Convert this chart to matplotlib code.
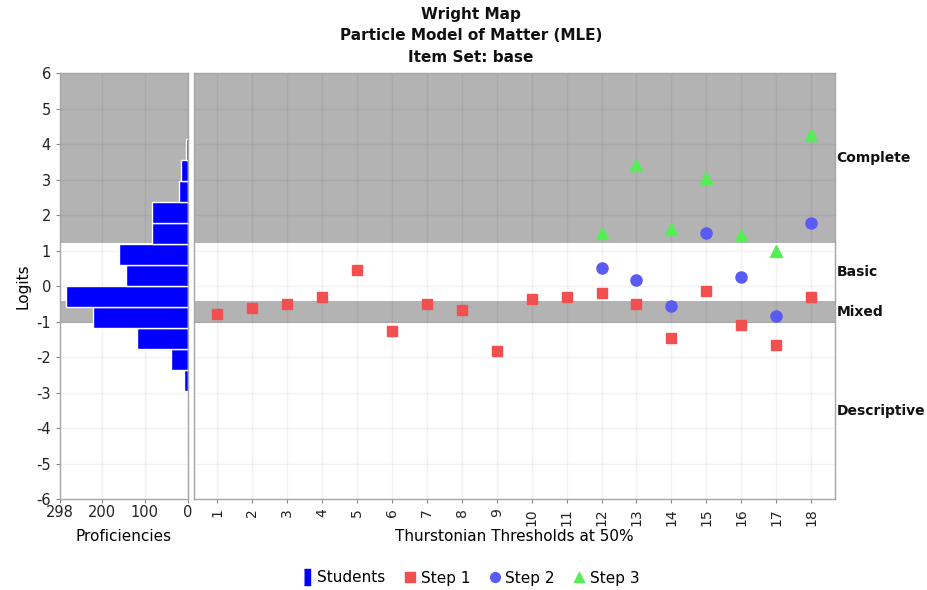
import numpy as np
import matplotlib
matplotlib.use("Agg")
import matplotlib.pyplot as plt
from matplotlib.lines import Line2D
from matplotlib.transforms import blended_transform_factory

plt.rcParams['font.family'] = ['DejaVu Sans']

# ---------------- data ----------------
items = list(range(1, 19))
step1 = [-0.79, -0.63, -0.51, -0.31, 0.45, -1.26, -0.51, -0.67, -1.82,
         -0.35, -0.31, -0.18, -0.51, -1.46, -0.15, -1.10, -1.66, -0.31]
step2_items = [12, 13, 14, 15, 16, 17, 18]
step2 = [0.50, 0.18, -0.57, 1.49, 0.25, -0.85, 1.77]
step3_items = [12, 13, 14, 15, 16, 17, 18]
step3 = [1.49, 3.41, 1.61, 3.05, 1.45, 0.99, 4.25]

# student proficiency histogram (logit bin centres, counts)
bin_centers = [-3.264, -2.672, -2.080, -1.488, -0.896, -0.304, 0.288,
               0.880, 1.472, 2.064, 2.656, 3.248, 3.840]
bin_width = 0.592
counts = [2, 9, 39, 118, 221, 284, 143, 160, 83, 83, 21, 15, 5]

# performance level bands
band_names = ['Descriptive', 'Mixed', 'Basic', 'Complete']
band_lower = [-6.0, -1.04, -0.41, 1.22]
band_upper = [-1.04, -0.41, 1.22, 6.0]
band_shaded = [False, True, False, True]

y_ticks = list(range(-6, 7))
hist_ticks = [298, 200, 100, 0]

# ---------------- styling ----------------
W, H = 928, 590
fig = plt.figure(figsize=(W / 100, H / 100), dpi=100)

def rect(x0, y0, x1, y1):
    return [x0 / W, 1 - y1 / H, (x1 - x0) / W, (y1 - y0) / H]

axL = fig.add_axes(rect(60, 73.3, 187.7, 499))
axR = fig.add_axes(rect(194, 73.3, 835, 499), sharey=axL)

band_color = '#b3b3b3'
spine_color = '#a6a6a6'
red = '#f25050'
blue = '#5a5af5'
green = '#55ee55'

for ax in (axL, axR):
    ax.set_axisbelow(True)
    for lo, hi, sh in zip(band_lower, band_upper, band_shaded):
        if sh:
            ax.axhspan(lo, hi, color=band_color, lw=0, zorder=0.2)
    ax.grid(True, color='black', alpha=0.05, lw=1)
    for s in ax.spines.values():
        s.set_color(spine_color)
        s.set_linewidth(1)
    ax.tick_params(colors='#888888', labelcolor='#222222', length=3, width=0.8)

# histogram
axL.barh(bin_centers, counts, height=bin_width, color='#0000ff',
         edgecolor='white', linewidth=1.0, zorder=2)
axL.set_xlim(298, 0)
axL.set_xticks(hist_ticks)
axL.set_xticklabels([str(t) for t in hist_ticks], fontsize=10.5)
axL.set_ylim(-6, 6)
axL.set_yticks(y_ticks)
axL.set_yticklabels([str(t) for t in y_ticks], fontsize=10.5)
axL.set_ylabel('Logits', fontsize=11, labelpad=4)
axL.set_xlabel('Proficiencies', fontsize=11, labelpad=7)
axL.tick_params(axis='x', pad=1)

# thresholds
axR.plot(items, step1, linestyle='none', marker='s', ms=7.5, color=red,
         mec=red, zorder=3)
axR.plot(step2_items, step2, linestyle='none', marker='o', ms=8, color=blue,
         mec=blue, zorder=3)
axR.plot(step3_items, step3, linestyle='none', marker='^', ms=8, color=green,
         mec=green, zorder=3)
axR.set_xlim(0.34, 18.68)
axR.set_xticks(items)
axR.set_xticklabels([str(i) for i in items], rotation=90, fontsize=10)
axR.tick_params(axis='y', left=False, labelleft=False)
axR.set_xlabel('Thurstonian Thresholds at 50%', fontsize=11, labelpad=2)

tr = blended_transform_factory(axR.transAxes, axR.transData)
for name, lo, hi in zip(band_names, band_lower, band_upper):
    axR.text(1.002, (lo + hi) / 2, name, transform=tr, ha='left',
             va='center', fontsize=10, fontweight='bold', color='#111111')

# title
title_lines = ['Wright Map', 'Particle Model of Matter (MLE)', 'Item Set: base']
for line, yy in zip(title_lines, [14, 36, 58]):
    fig.text(471 / W, 1 - yy / H, line, ha='center', va='center',
             fontsize=11, fontweight='bold', color='#111111')

# legend
stud_marker = [(-0.35, -1), (0.35, -1), (0.35, 1), (-0.35, 1)]
handles = [
    Line2D([], [], linestyle='none', marker=stud_marker, ms=11, color='#0000ff'),
    Line2D([], [], linestyle='none', marker='s', ms=7, color=red),
    Line2D([], [], linestyle='none', marker='o', ms=7, color=blue),
    Line2D([], [], linestyle='none', marker='^', ms=7, color=green),
]
fig.legend(handles, ['Students', 'Step 1', 'Step 2', 'Step 3'],
           loc='center', bbox_to_anchor=(470 / W, 1 - 578 / H), ncol=4,
           frameon=False, fontsize=11, handlelength=0.8, handletextpad=0.3,
           columnspacing=1.2)

fig.savefig('out.png', dpi=100)
